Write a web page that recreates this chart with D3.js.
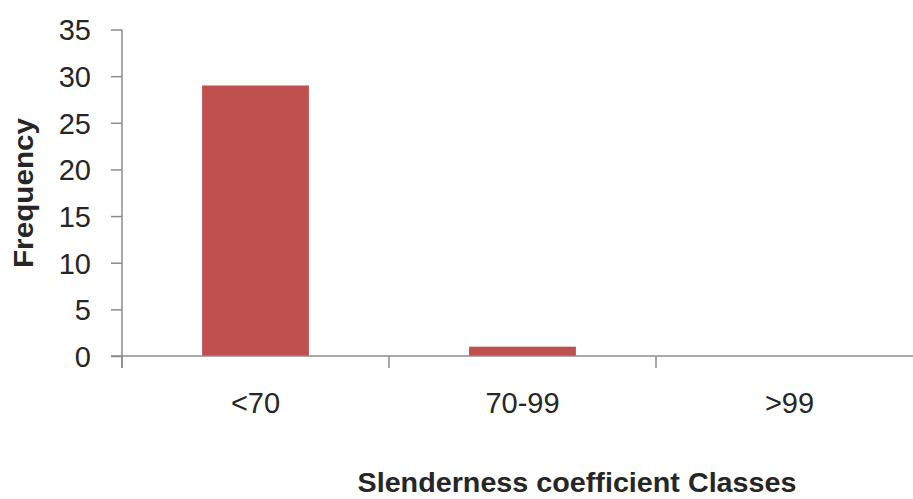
<!DOCTYPE html>
<html>
<head>
<meta charset="utf-8">
<script src="https://cdn.jsdelivr.net/npm/d3@7/dist/d3.min.js"></script>
<style>
  html, body { margin: 0; padding: 0; background: #fff; }
  svg { display: block; }
  text { font-family: "Liberation Sans", Arial, sans-serif; fill: #262626; }
</style>
</head>
<body>
<svg id="chart" width="913" height="499"></svg>
<script>
// Slenderness coefficient classes and their frequencies
const categories = ["<70", "70-99", ">99"];
const frequencies = [29, 1, 0];
const yTicks = [0, 5, 10, 15, 20, 25, 30, 35];

const svg = d3.select("#chart");
const plotLeft = 122, plotRight = 923, plotTop = 29.5, plotBottom = 356;

const x = d3.scaleBand()
  .domain(categories)
  .range([plotLeft, plotRight])
  .paddingInner(0.6)
  .paddingOuter(0.3);

const y = d3.scaleLinear()
  .domain([0, 35])
  .range([plotBottom, plotTop]);

// Bars
svg.append("g")
  .selectAll("rect")
  .data(categories)
  .join("rect")
  .attr("x", d => x(d))
  .attr("width", x.bandwidth())
  .attr("y", (d, i) => y(frequencies[i]))
  .attr("height", (d, i) => y(0) - y(frequencies[i]))
  .attr("fill", "#C0504D");

// Y axis
const yAxis = svg.append("g")
  .attr("transform", `translate(${plotLeft},0)`)
  .call(d3.axisLeft(y).tickValues(yTicks).tickSize(11).tickPadding(20));
yAxis.select(".domain").attr("stroke", "#8c8c8c").attr("stroke-width", 1.5)
  .attr("d", `M0,${plotTop}V${plotBottom + 12}`);
yAxis.selectAll(".tick line").attr("stroke", "#8c8c8c").attr("stroke-width", 1.5);
yAxis.selectAll(".tick text")
  .style("font-size", "29px")
  .attr("fill", "#333")
  .attr("dy", "0.36em");

// X axis: baseline with ticks at the category boundaries
const xg = svg.append("g");
xg.append("line")
  .attr("x1", plotLeft - 11).attr("x2", plotRight)
  .attr("y1", plotBottom).attr("y2", plotBottom)
  .attr("stroke", "#8c8c8c").attr("stroke-width", 1.5);
const step = x.step();
const boundaries = d3.range(categories.length + 1).map(i => plotLeft + i * step);
xg.selectAll("line.tick")
  .data(boundaries)
  .join("line")
  .attr("class", "tick")
  .attr("x1", d => d).attr("x2", d => d)
  .attr("y1", plotBottom).attr("y2", plotBottom + 12)
  .attr("stroke", "#8c8c8c").attr("stroke-width", 1.5);
xg.selectAll("text")
  .data(categories)
  .join("text")
  .attr("x", d => x(d) + x.bandwidth() / 2)
  .attr("y", 413)
  .attr("text-anchor", "middle")
  .style("font-size", "29px")
  .attr("fill", "#333")
  .text(d => d);

// Axis titles
svg.append("text")
  .attr("x", 577)
  .attr("y", 492)
  .attr("text-anchor", "middle")
  .style("font-size", "28px")
  .style("font-weight", "bold")
  .attr("textLength", 439)
  .attr("lengthAdjust", "spacingAndGlyphs")
  .text("Slenderness coefficient Classes");

svg.append("text")
  .attr("transform", "translate(33,193) rotate(-90)")
  .attr("text-anchor", "middle")
  .style("font-size", "27px")
  .style("font-weight", "bold")
  .attr("textLength", 150)
  .attr("lengthAdjust", "spacingAndGlyphs")
  .text("Frequency");
</script>
</body>
</html>
